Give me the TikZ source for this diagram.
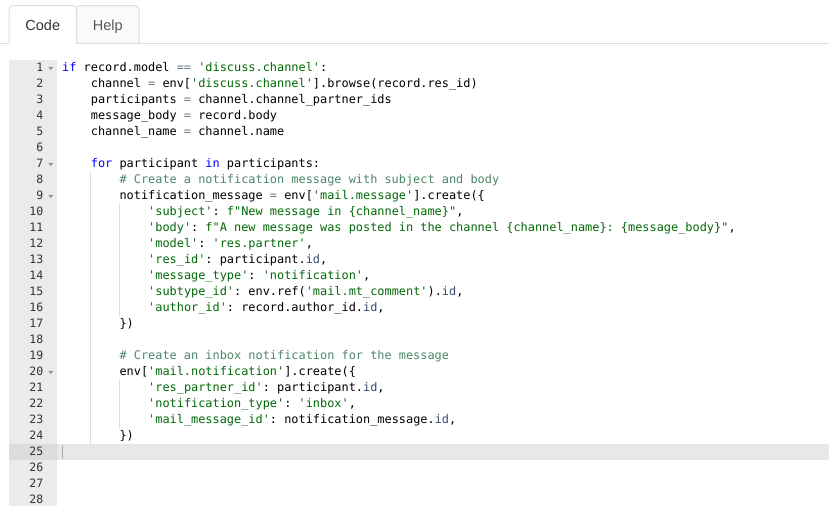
\documentclass[tikz,border=0pt]{standalone}
\usepackage{fontspec}
\setmonofont{DejaVu Sans Mono}
\setsansfont{Liberation Sans}
\definecolor{kw}{RGB}{0,0,255}
\definecolor{str}{RGB}{3,106,7}
\definecolor{cmt}{RGB}{76,136,107}
\definecolor{opc}{RGB}{104,118,135}
\definecolor{fnc}{RGB}{60,76,114}
\definecolor{gutterbg}{RGB}{235,235,235}
\definecolor{gutteract}{RGB}{220,220,220}
\definecolor{lineact}{RGB}{232,232,232}
\definecolor{tabline}{RGB}{221,221,221}
\definecolor{guidec}{RGB}{222,222,222}
\definecolor{cursorc}{RGB}{170,170,170}
\newcommand\Kw[1]{\textcolor{kw}{#1}}
\newcommand\Str[1]{\textcolor{str}{#1}}
\newcommand\Cm[1]{\textcolor{cmt}{#1}}
\newcommand\Op[1]{\textcolor{opc}{#1}}
\newcommand\Fn[1]{\textcolor{fnc}{#1}}
\begin{document}
\begin{tikzpicture}[x=1pt,y=-1pt,
  code/.style={anchor=base west,inner sep=0pt,font=\ttfamily\fontsize{11.9}{16}\selectfont,text=black},
  lnum/.style={anchor=base east,inner sep=0pt,font=\ttfamily\fontsize{11.5}{16}\selectfont,text=black!80},
  tablabel/.style={anchor=base,inner sep=0pt,font=\sffamily\fontsize{14.5}{17}\selectfont},
  foldmark/.style={fill=black!45,draw=none},
  guideline/.style={draw=guidec,line width=1pt},
  tabborder/.style={draw=tabline,line width=1pt,rounded corners=4pt}]
\fill[white] (0,0) rectangle (829,506);
\useasboundingbox (0,0) rectangle (829,506);
% tabs
\fill[black!2,rounded corners=4pt] (76.5,43.5) -- (76.5,5.5) -- (139,5.5) -- (139,43.5) -- cycle;
\draw[draw=tabline,line width=1pt] (0,43.5) -- (9,43.5);
\draw[draw=tabline,line width=1pt] (76.5,43.5) -- (829,43.5);
\draw[tabborder] (9,43.5) -- (9,5.5) -- (76.5,5.5) -- (76.5,43.5);
\draw[tabborder] (76.5,43.5) -- (76.5,5.5) -- (139,5.5) -- (139,43.5);
\node[tablabel,text=black!80] (tabcode) at (42.8,30.6) {Code};
\node[tablabel,text=black!65] (tabhelp) at (107.8,30.6) {Help};
% gutter and active line
\fill[gutterbg] (8.5,60) rectangle (57,506);
\fill[gutteract] (8.5,443.5) rectangle (57,459.5);
\fill[lineact] (57,443.5) rectangle (829,459.5);
\draw[draw=cursorc,line width=1.6pt] (62.5,444.5) -- (62.5,458.5);
% indent guides
\draw[guideline] (90.5,171.5) -- (90.5,443.5);
\draw[guideline] (119.2,203.5) -- (119.2,315.5);
\draw[guideline] (119.2,379.5) -- (119.2,427.5);
% line numbers
\foreach \i in {1,...,28}
  \node[lnum] (n\i) at (43.5,{71.7+16*(\i-1)}) {\i};
% fold marks
\foreach \i in {1,7,9,20}
  \fill[foldmark] (48.4,{67+16*(\i-1)}) -- (53.2,{67+16*(\i-1)}) -- (50.8,{70+16*(\i-1)}) -- cycle;
% code
\node[code] (c1) at (62,71.7) {\Kw{if} record.model \Op{==} \Str{'discuss.channel'}:};
\node[code] (c2) at (90.66,87.7) {channel \Op{=} env[\Str{'discuss.channel'}].browse(record.res\_id)};
\node[code] (c3) at (90.66,103.7) {participants \Op{=} channel.channel\_partner\_ids};
\node[code] (c4) at (90.66,119.7) {message\_body \Op{=} record.body};
\node[code] (c5) at (90.66,135.7) {channel\_name \Op{=} channel.name};
\node[code] (c7) at (90.66,167.7) {\Kw{for} participant \Kw{in} participants:};
\node[code] (c8) at (119.32,183.7) {\Cm{\# Create a notification message with subject and body}};
\node[code] (c9) at (119.32,199.7) {notification\_message \Op{=} env[\Str{'mail.message'}].create(\{};
\node[code] (c10) at (147.98,215.7) {\Str{'subject'}: \Str{f"New message in \{channel\_name\}"},};
\node[code] (c11) at (147.98,231.7) {\Str{'body'}: \Str{f"A new message was posted in the channel \{channel\_name\}: \{message\_body\}"},};
\node[code] (c12) at (147.98,247.7) {\Str{'model'}: \Str{'res.partner'},};
\node[code] (c13) at (147.98,263.7) {\Str{'res\_id'}: participant.\Fn{id},};
\node[code] (c14) at (147.98,279.7) {\Str{'message\_type'}: \Str{'notification'},};
\node[code] (c15) at (147.98,295.7) {\Str{'subtype\_id'}: env.ref(\Str{'mail.mt\_comment'}).\Fn{id},};
\node[code] (c16) at (147.98,311.7) {\Str{'author\_id'}: record.author\_id.\Fn{id},};
\node[code] (c17) at (119.32,327.7) {\})};
\node[code] (c19) at (119.32,359.7) {\Cm{\# Create an inbox notification for the message}};
\node[code] (c20) at (119.32,375.7) {env[\Str{'mail.notification'}].create(\{};
\node[code] (c21) at (147.98,391.7) {\Str{'res\_partner\_id'}: participant.\Fn{id},};
\node[code] (c22) at (147.98,407.7) {\Str{'notification\_type'}: \Str{'inbox'},};
\node[code] (c23) at (147.98,423.7) {\Str{'mail\_message\_id'}: notification\_message.\Fn{id},};
\node[code] (c24) at (119.32,439.7) {\})};
\end{tikzpicture}
\end{document}
